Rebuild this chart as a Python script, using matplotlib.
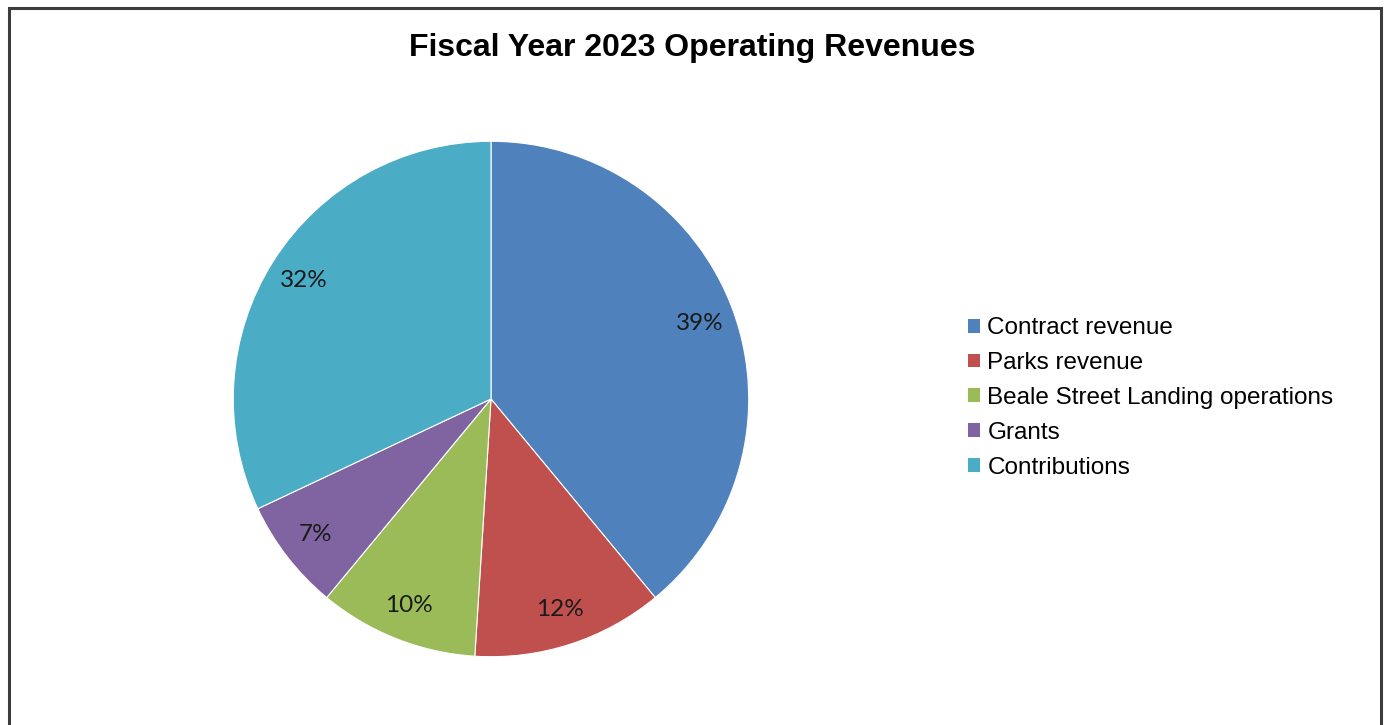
import matplotlib.pyplot as plt
from matplotlib.patches import Patch, Rectangle

# revenue share by source, percent
categories = ["Contract revenue", "Parks revenue", "Beale Street Landing operations",
              "Grants", "Contributions"]
shares = [39, 12, 10, 7, 32]
colors = ["#4F81BD", "#C0504D", "#9BBB59", "#8064A2", "#4BACC6"]

fig = plt.figure(figsize=(13.84, 7.25), dpi=100)

# outer chart frame (bottom edge falls off the page)
fig.add_artist(Rectangle((9 / 1384, -0.05), 1372 / 1384, 1.05 - 8 / 725,
                         transform=fig.transFigure, fill=False,
                         edgecolor="#3c3c3c", linewidth=2.2))

fig.text(0.5, 1 - 48 / 725, "Fiscal Year 2023 Operating Revenues",
         ha="center", va="center", fontsize=23, fontweight="bold",
         family="Liberation Sans")

ax = fig.add_axes([232 / 1384, 67 / 725, 518 / 1384, 518 / 725])
wedges, _, autotexts = ax.pie(shares, colors=colors, startangle=90, counterclock=False,
                              autopct="%d%%", pctdistance=0.86, radius=1,
                              wedgeprops=dict(edgecolor="white", linewidth=0.8))
for t in autotexts:
    t.set_fontfamily("Lato")
    t.set_fontsize(17.5)
    t.set_color("#1a1a1a")
ax.set_xlim(-1.005, 1.005)
ax.set_ylim(-1.005, 1.005)
ax.set_aspect("equal")
ax.axis("off")

handles = [Patch(facecolor=c, edgecolor="none") for c in colors]
fig.legend(handles, categories, loc="center left", bbox_to_anchor=(968 / 1384, 1 - 398 / 725),
           frameon=False, prop=dict(family="Liberation Sans", size=17.5),
           handlelength=0.5, handleheight=0.5, handletextpad=0.3, labelspacing=0.53,
           borderpad=0, borderaxespad=0)

fig.savefig("out.png", dpi=100, facecolor="white")
